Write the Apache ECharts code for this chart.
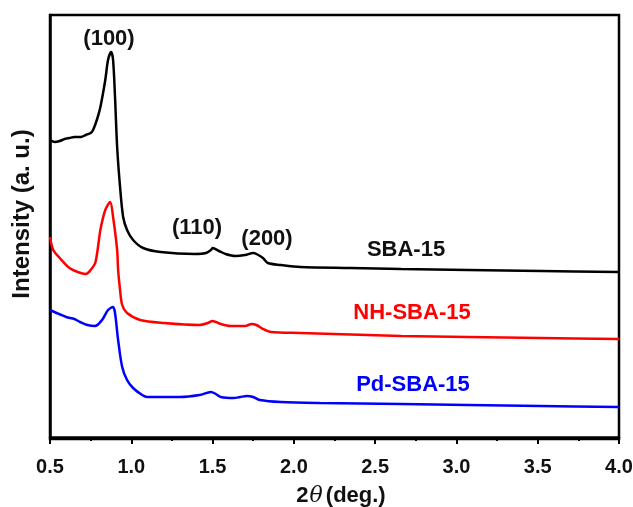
<!DOCTYPE html>
<html>
<head>
<meta charset="utf-8">
<script src="https://cdn.jsdelivr.net/npm/echarts@6/dist/echarts.min.js"></script>
<style>
  html, body { margin: 0; padding: 0; background: #fff; }
  #chart { width: 633px; height: 507px; }
</style>
</head>
<body>
<div id="chart"></div>
<script>
// 2theta values and intensities (a.u., offset per sample)
let sba_x = [0.5, 0.53, 0.56, 0.59, 0.62, 0.65, 0.69, 0.72, 0.75, 0.765, 0.79, 0.81, 0.84, 0.857, 0.876, 0.888, 0.9, 0.913, 0.931, 0.95, 0.974, 1.011, 1.073, 1.18, 1.39, 1.46, 1.49, 1.5, 1.54, 1.58, 1.64, 1.7, 1.75, 1.77, 1.81, 1.84, 1.92, 2.04, 2.35, 2.66, 3.07, 3.52, 4.0]
let sba_y = [297, 295, 296, 298, 299, 300, 300, 302, 304, 307, 318, 330, 357, 377, 385, 377, 340, 290, 250, 220, 207, 197, 189, 185, 183, 184, 187, 189, 186, 183, 181, 182, 184, 183, 179, 174, 172, 170, 169, 168, 167, 166, 165]

let nh_x = [0.5, 0.52, 0.56, 0.62, 0.67, 0.72, 0.75, 0.78, 0.81, 0.84, 0.87, 0.888, 0.913, 0.919, 0.931, 0.944, 0.974, 1.055, 1.2, 1.42, 1.47, 1.5, 1.55, 1.61, 1.7, 1.74, 1.77, 1.81, 1.86, 2.04, 2.66, 3.07, 3.52, 4.0]
let nh_y = [200, 187, 179, 169, 165, 163, 167, 175, 207, 227, 235, 220, 187, 167, 147, 132, 124, 117, 114, 112, 114, 116, 113, 111, 111, 113, 112, 108, 105, 104, 101, 100, 99, 98]

let pd_x = [0.5, 0.54, 0.6, 0.65, 0.685, 0.73, 0.777, 0.82, 0.857, 0.888, 0.9, 0.919, 0.944, 0.974, 1.011, 1.067, 1.098, 1.3, 1.42, 1.49, 1.52, 1.55, 1.63, 1.67, 1.71, 1.75, 1.79, 1.92, 2.16, 2.66, 3.07, 3.52, 4.0]
let pd_y = [127, 124, 120, 118, 115, 112, 111, 117, 127, 130, 124, 97, 70, 57, 49, 42, 40, 40, 42, 45, 43, 40, 39, 40, 41, 40, 37, 35, 34, 33, 32, 31, 30]

let x_ticks = [0.5, 4.0, 0.5] // min, max, interval

function pairs(xs, ys) {
  let out = []
  for (let i = 0; i < xs.length; i++) {
    out.push([xs[i], ys[i]])
  }
  return out
}

let chart = echarts.init(document.getElementById('chart'))
const font = 'Liberation Sans, Arial, sans-serif'

function lineSeries(name, xs, ys, color) {
  return {
    name: name,
    type: 'line',
    data: pairs(xs, ys),
    showSymbol: false,
    smooth: 0.3,
    lineStyle: { color: color, width: 2.5 },
    itemStyle: { color: color },
    animation: false
  }
}

function label(text, x, y, color, size) {
  return {
    type: 'text',
    x: x,
    y: y,
    style: {
      text: text,
      fill: color,
      font: 'bold ' + (size || 22) + 'px ' + font,
      align: 'center',
      verticalAlign: 'middle'
    }
  }
}

const option = {
  backgroundColor: '#fff',
  grid: {
    left: 50,
    right: 14,
    top: 15,
    bottom: 68,
    containLabel: false,
    outerBoundsMode: 'none',
    show: true,
    borderColor: '#000',
    borderWidth: 2.5
  },
  xAxis: {
    type: 'value',
    min: x_ticks[0],
    max: x_ticks[1],
    interval: x_ticks[2],
    axisLine: { show: true, lineStyle: { color: '#000', width: 2.5 } },
    axisTick: { show: true, length: 7, lineStyle: { color: '#000', width: 2 } },
    minorTick: { show: true, splitNumber: 2, length: 4, lineStyle: { color: '#000', width: 2 } },
    splitLine: { show: false },
    axisLabel: {
      margin: 18,
      color: '#111',
      fontFamily: font,
      fontWeight: 'bold',
      fontSize: 20,
      formatter: function (v) { return v.toFixed(1) }
    }
  },
  yAxis: {
    type: 'value',
    min: -2,
    max: 422,
    axisLine: { show: true, lineStyle: { color: '#000', width: 2.5 } },
    axisTick: { show: false },
    axisLabel: { show: false },
    splitLine: { show: false }
  },
  series: [
    lineSeries('SBA-15', sba_x, sba_y, '#000000'),
    lineSeries('NH-SBA-15', nh_x, nh_y, '#ff0000'),
    lineSeries('Pd-SBA-15', pd_x, pd_y, '#0000ff')
  ],
  graphic: [
    label('(100)', 109, 39, '#111'),
    label('(110)', 197, 228, '#111'),
    label('(200)', 267, 239, '#111'),
    label('SBA-15', 406, 250, '#111'),
    label('NH-SBA-15', 412, 313, '#ff0000'),
    label('Pd-SBA-15', 413, 385, '#0000ff'),
    {
      type: 'text',
      x: 22,
      y: 214,
      rotation: Math.PI / 2,
      style: {
        text: 'Intensity (a. u.)',
        fill: '#111',
        font: 'bold 24px ' + font,
        align: 'center',
        verticalAlign: 'middle'
      }
    },
    {
      type: 'text',
      x: 341,
      y: 496,
      style: {
        text: '{n|2}{t|θ}{n|(deg.)}',
        fill: '#111',
        align: 'center',
        verticalAlign: 'middle',
        rich: {
          n: { fontFamily: font, fontWeight: 'bold', fontSize: 22, fill: '#111' },
          t: { fontFamily: 'DejaVu Serif, serif', fontStyle: 'italic', fontSize: 22, fill: '#111', padding: [0, 3, 0, 1] }
        }
      }
    }
  ]
}

chart.setOption(option)
window.addEventListener('resize', function () {
  chart.resize()
})
</script>
</body>
</html>
